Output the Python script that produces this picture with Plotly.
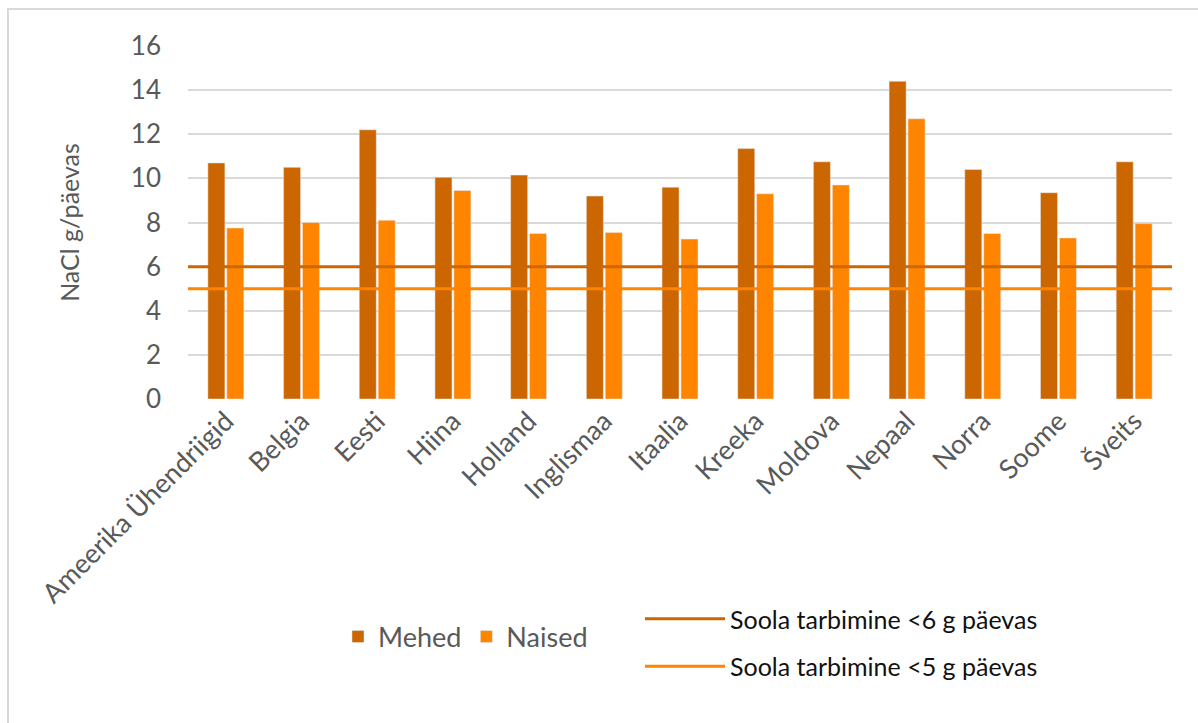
import plotly.graph_objects as go

categories = ["Ameerika Ühendriigid", "Belgia", "Eesti", "Hiina", "Holland", "Inglismaa",
              "Itaalia", "Kreeka", "Moldova", "Nepaal", "Norra", "Soome", "Šveits"]
mehed = [10.7, 10.5, 12.2, 10.05, 10.15, 9.2, 9.6, 11.35, 10.75, 14.4, 10.4, 9.35, 10.75]
naised = [7.75, 8.0, 8.1, 9.45, 7.5, 7.55, 7.25, 9.3, 9.7, 12.7, 7.5, 7.3, 7.95]
limit_names = ["Soola tarbimine <6 g päevas", "Soola tarbimine <5 g päevas"]
limit_values = [6, 5]

C_MEHED = "#CC6600"
C_NAISED = "#FF8400"
FONT = "Lato"
GRAY = "#595959"

W, H = 1198, 723
L, R, T, B = 188, 26, 46, 324
pw, ph = W - L - R, H - T - B

def px(x):
    return (x - L) / pw

def py(y):
    return (H - B - y) / ph

fig = go.Figure()
fig.add_trace(go.Bar(x=categories, y=mehed, name="Mehed", marker=dict(color=C_MEHED),
                     legend="legend"))
fig.add_trace(go.Bar(x=categories, y=naised, name="Naised", marker=dict(color=C_NAISED),
                     legend="legend"))
for i, (nm, v, c) in enumerate(zip(limit_names, limit_values, [C_MEHED, C_NAISED])):
    fig.add_trace(go.Scatter(x=[0, 1], y=[v, v], mode="lines", name=nm,
                             line=dict(color=c, width=3), xaxis="x2",
                             legend="legend2", legendgroup=f"g{i}"))

fig.update_layout(
    width=W, height=H,
    margin=dict(l=L, r=R, t=T, b=B),
    paper_bgcolor="white", plot_bgcolor="white",
    barmode="group", bargap=0.5, bargroupgap=0.1,
    font=dict(family=FONT, color=GRAY, size=22),
    xaxis=dict(type="category", tickangle=-45, tickfont=dict(size=27, color=GRAY),
               showgrid=False, showline=False, ticks=""),
    xaxis2=dict(overlaying="x", range=[0, 1], visible=False, fixedrange=True),
    yaxis=dict(range=[0, 16], dtick=2, showgrid=True, gridcolor="#D9D9D9", gridwidth=1.5,
               zeroline=False, showline=False, tickfont=dict(size=26, color=GRAY),
               ticklabelstandoff=26,
               title=dict(text="NaCl g/päevas", font=dict(size=25, color=GRAY), standoff=44)),
    showlegend=True,
    legend=dict(orientation="h", x=px(338), y=py(637), xanchor="left", yanchor="middle",
                font=dict(size=27, color=GRAY), bgcolor="rgba(0,0,0,0)"),
    legend2=dict(orientation="v", x=px(640), y=py(596), xanchor="left", yanchor="top",
                 font=dict(size=25, color="#111111"), tracegroupgap=12, itemwidth=80,
                 bgcolor="rgba(0,0,0,0)"),
    shapes=[dict(type="rect", xref="paper", yref="paper",
                 x0=px(8), x1=px(1210), y0=py(9), y1=py(740),
                 line=dict(color="#D9D9D9", width=2), fillcolor="rgba(0,0,0,0)", layer="below")],
)

fig.write_html("out.html")
